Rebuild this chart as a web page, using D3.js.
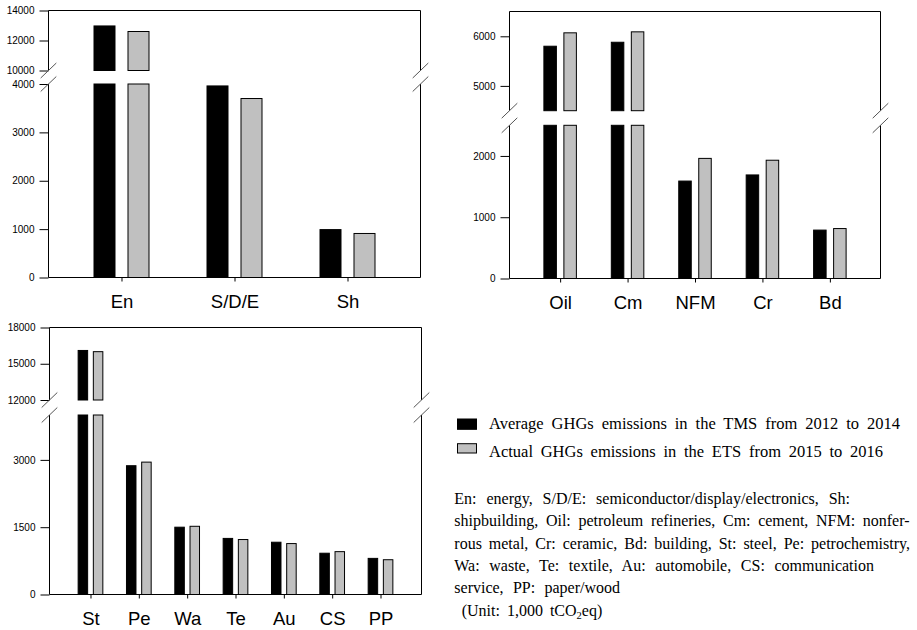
<!DOCTYPE html>
<html>
<head>
<meta charset="utf-8">
<script src="https://cdn.jsdelivr.net/npm/d3@7"></script>
<style>
  html, body { margin: 0; padding: 0; background: #fff; }
  svg { display: block; }
  .tick text { fill: #000; }
</style>
</head>
<body>
<svg id="chart" width="917" height="630"></svg>
<script>
// ---------------- DATA ----------------
const catsA = ["En", "S/D/E", "Sh"];
const tmsA  = [12970, 3960, 990];
const etsA  = [12600, 3700, 910];
const lowerTicksA = [0, 1000, 2000, 3000, 4000];
const upperTicksA = [10000, 12000, 14000];
const lowerDomainA = [0, 4000];
const upperDomainA = [10000, 14000];

const catsB = ["Oil", "Cm", "NFM", "Cr", "Bd"];
const tmsB  = [5800, 5880, 1590, 1690, 790];
const etsB  = [6070, 6090, 1960, 1930, 815];
const lowerTicksB = [0, 1000, 2000];
const upperTicksB = [5000, 6000];
const lowerDomainB = [0, 2500];
const upperDomainB = [4500, 6500];

const catsC = ["St", "Pe", "Wa", "Te", "Au", "CS", "PP"];
const tmsC  = [16100, 2870, 1500, 1250, 1165, 920, 805];
const etsC  = [16000, 2950, 1520, 1225, 1135, 955, 775];
const lowerTicksC = [0, 1500, 3000];
const upperTicksC = [12000, 15000, 18000];
const lowerDomainC = [0, 4000];
const upperDomainC = [12000, 18000];

const seriesNames = [
  "Average GHGs emissions in the TMS from 2012 to 2014",
  "Actual GHGs emissions in the ETS from 2015 to 2016"
];
const noteLines = [
  "En: energy, S/D/E: semiconductor/display/electronics, Sh:",
  "shipbuilding, Oil: petroleum refineries, Cm: cement, NFM: nonfer-",
  "rous metal, Cr: ceramic, Bd: building, St: steel, Pe: petrochemistry,",
  "Wa: waste, Te: textile, Au: automobile, CS: communication",
  "service, PP: paper/wood"
];
const unitParts = ["(Unit: 1,000 tCO", "2", "eq)"];

// ---------------- LAYOUT ----------------
const colors = ["#000000", "#c0c0c0"];
const SANS = "'Liberation Sans', Arial, Helvetica, sans-serif";
const SERIF = "'Liberation Serif', 'Times New Roman', serif";

const svg = d3.select("#chart");

function drawPanel(cfg, cats, s1, s2, lowerTicks, upperTicks, lowerDomain, upperDomain) {
  const g = svg.append("g");
  const x = d3.scalePoint().domain(cats).range([cfg.left, cfg.right]).padding(cfg.pad);
  const yL = d3.scaleLinear().domain(lowerDomain).range([cfg.bottom, cfg.lowerTop]);
  const yU = d3.scaleLinear().domain(upperDomain).range([cfg.upperBottom, cfg.top]);

  // bars
  [s1, s2].forEach((vals, si) => {
    const off = si === 0 ? -cfg.off : cfg.off;
    cats.forEach((c, i) => {
      const v = vals[i];
      const bx = x(c) + off - cfg.bw / 2;
      const rects = [];
      if (v > lowerDomain[1]) {
        rects.push([yL(lowerDomain[1]), yL(0)]);
        rects.push([yU(v), yU(upperDomain[0])]);
      } else {
        rects.push([yL(v), yL(0)]);
      }
      rects.forEach(([y0, y1]) => {
        g.append("rect")
          .attr("x", bx).attr("y", y0)
          .attr("width", cfg.bw).attr("height", y1 - y0)
          .attr("fill", colors[si])
          .attr("stroke", "#000").attr("stroke-width", 1);
      });
    });
  });

  // y axes
  const axL = g.append("g").attr("transform", `translate(${cfg.left},0)`)
    .call(d3.axisLeft(yL).tickValues(lowerTicks).tickSize(9).tickPadding(5).tickFormat(d3.format("d")));
  const axU = g.append("g").attr("transform", `translate(${cfg.left},0)`)
    .call(d3.axisLeft(yU).tickValues(upperTicks).tickSize(9).tickPadding(5).tickFormat(d3.format("d")));
  [axL, axU].forEach(a => {
    a.select(".domain").remove();
    a.selectAll("text").attr("font-family", SANS).attr("font-size", 10);
    a.selectAll("line").attr("stroke", "#000");
  });

  // x axis
  const axB = g.append("g").attr("transform", `translate(0,${cfg.bottom})`)
    .call(d3.axisBottom(x).tickSize(4).tickPadding(13.5));
  axB.select(".domain").remove();
  axB.selectAll("text").attr("font-family", SANS).attr("font-size", 18.5);
  axB.selectAll("line").attr("stroke", "#000");

  // frame with breaks
  const frame = g.append("g").attr("stroke", "#000").attr("stroke-width", 1).attr("fill", "none");
  frame.append("line").attr("x1", cfg.left).attr("x2", cfg.right).attr("y1", cfg.top).attr("y2", cfg.top);
  frame.append("line").attr("x1", cfg.left).attr("x2", cfg.right).attr("y1", cfg.bottom).attr("y2", cfg.bottom);
  [cfg.left, cfg.right].forEach(xx => {
    frame.append("line").attr("x1", xx).attr("x2", xx).attr("y1", cfg.top).attr("y2", cfg.upperBottom);
    frame.append("line").attr("x1", xx).attr("x2", xx).attr("y1", cfg.lowerTop).attr("y2", cfg.bottom);
    [cfg.upperBottom, cfg.lowerTop].forEach(yy => {
      g.append("line")
        .attr("x1", xx - 7.8).attr("y1", yy + 7.5)
        .attr("x2", xx + 7.8).attr("y2", yy - 7.5)
        .attr("stroke", "#555").attr("stroke-width", 1);
    });
  });
}

drawPanel({left: 48.5, right: 420.5, top: 10.5, bottom: 277.5, upperBottom: 70.5, lowerTop: 84, pad: 0.646, bw: 21, off: 17},
  catsA, tmsA, etsA, lowerTicksA, upperTicksA, lowerDomainA, upperDomainA);
drawPanel({left: 509.5, right: 880.5, top: 11.5, bottom: 278.5, upperBottom: 110.7, lowerTop: 125.3, pad: 0.751, bw: 12.5, off: 10},
  catsB, tmsB, etsB, lowerTicksB, upperTicksB, lowerDomainB, upperDomainB);
drawPanel({left: 49.5, right: 421.5, top: 327.5, bottom: 594.5, upperBottom: 400, lowerTop: 415, pad: 0.848, bw: 9.5, off: 7.6},
  catsC, tmsC, etsC, lowerTicksC, upperTicksC, lowerDomainC, upperDomainC);

// ---------------- LEGEND ----------------
function fitText(sel, targetWidth) {
  const node = sel.node();
  const text = sel.text();
  const nSpaces = (text.match(/ /g) || []).length;
  const w = node.getComputedTextLength();
  if (nSpaces > 0) sel.style("word-spacing", ((targetWidth - w) / nSpaces) + "px");
}

const legendRows = [
  {ry: 419, rh: 10.3, ty: 429.3, tEnd: 900},
  {ry: 443.7, rh: 9.3, ty: 457, tEnd: 883}
];
seriesNames.forEach((name, i) => {
  const r = legendRows[i];
  svg.append("rect").attr("x", 457.5).attr("y", r.ry).attr("width", 19).attr("height", r.rh)
    .attr("fill", colors[i]).attr("stroke", "#000").attr("stroke-width", 1);
  const t = svg.append("text").attr("x", 489).attr("y", r.ty)
    .attr("font-family", SERIF).attr("font-size", 16.5).attr("fill", "#000").text(name);
  fitText(t, r.tEnd - 489);
});

const noteLayout = [
  {y: 504, end: 850},
  {y: 526.3, end: 909.5},
  {y: 548.6, end: 910},
  {y: 571, end: 874},
  {y: 593.4, end: 620}
];
noteLines.forEach((line, i) => {
  const L = noteLayout[i];
  const t = svg.append("text").attr("x", 454.3).attr("y", L.y)
    .attr("font-family", SERIF).attr("font-size", 16).attr("fill", "#000").text(line);
  fitText(t, L.end - 454.3);
});

const unit = svg.append("text").attr("x", 461.7).attr("y", 616)
  .attr("font-family", SERIF).attr("font-size", 16).attr("fill", "#000");
unit.append("tspan").text(unitParts[0]).style("word-spacing", "3px");
unit.append("tspan").attr("font-size", 10.5).attr("dy", 3).text(unitParts[1]);
unit.append("tspan").attr("dy", -3).text(unitParts[2]);
</script>
</body>
</html>
